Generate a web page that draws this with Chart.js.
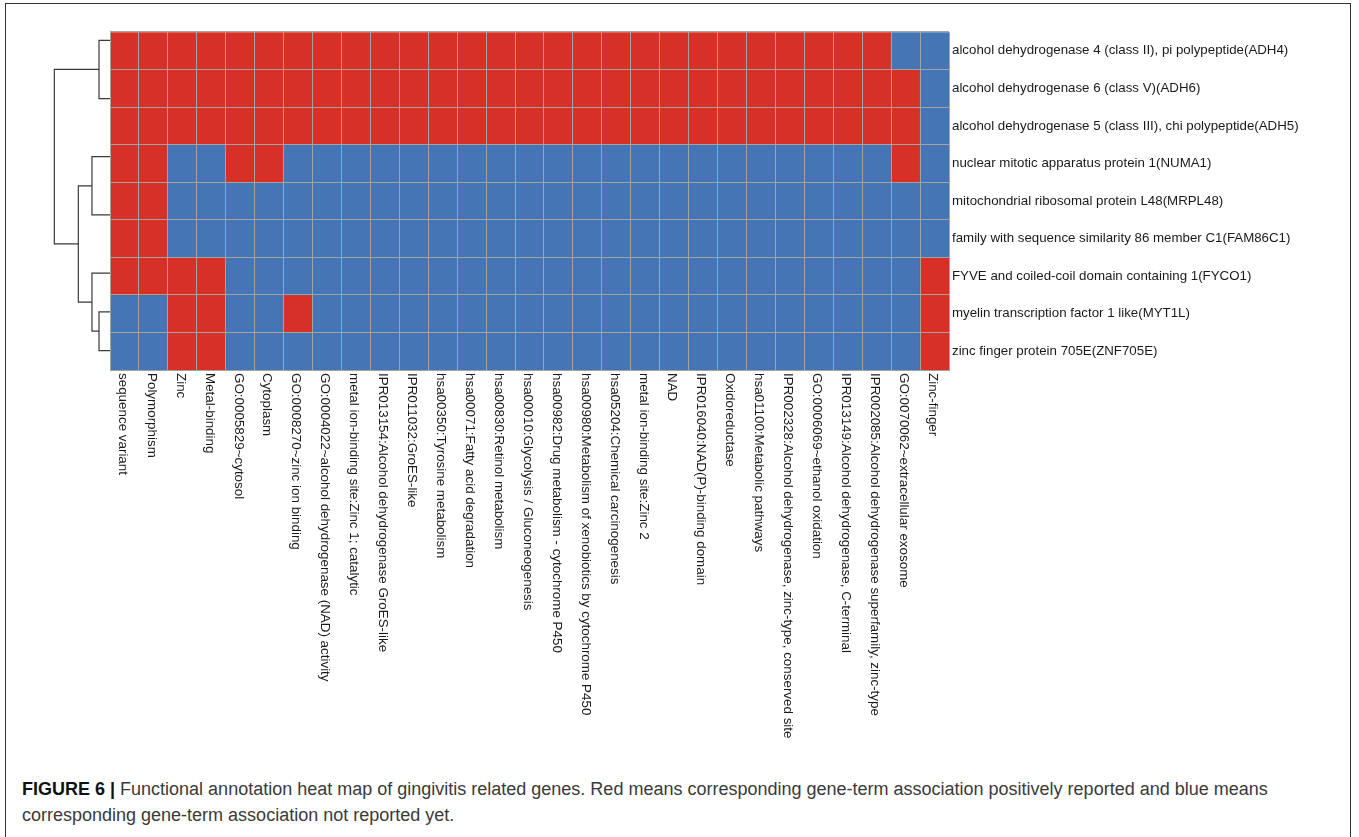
<!DOCTYPE html>
<html>
<head>
<meta charset="utf-8">
<title>Functional annotation heat map</title>
<script src="https://cdn.jsdelivr.net/npm/chart.js@4.4.1/dist/chart.umd.min.js"></script>
<style>
  html, body { margin: 0; padding: 0; background: #fff; overflow: hidden; }
  body { font-family: "Liberation Sans", Arial, sans-serif; width: 1359px; height: 837px; position: relative; }
  #frame { position: absolute; left: 5px; top: 3px; width: 1346px; height: 840px; border: 1px solid #333; border-bottom: none; box-sizing: border-box; }
  #dendroBox { position: absolute; left: 0; top: 21px; width: 110px; height: 349px; }
  #heatBox { position: absolute; left: 110px; top: 21px; width: 1240px; height: 749px; }
  #caption { position: absolute; left: 22px; top: 776px; width: 1320px; font-size: 18px; line-height: 26px; color: #3a3a3a; white-space: nowrap; }
  #caption b { color: #111; }
</style>
</head>
<body>
<div id="frame"></div>
<div id="dendroBox"><canvas id="dendro"></canvas></div>
<div id="heatBox"><canvas id="heat"></canvas></div>
<div id="caption"><b>FIGURE 6 |</b> Functional annotation heat map of gingivitis related genes. Red means corresponding gene-term association positively reported and blue means<br>corresponding gene-term association not reported yet.</div>

<script>
// terms (columns) and genes (rows), in the order of the figure
var terms = [
  'sequence variant', 'Polymorphism', 'Zinc', 'Metal-binding', 'GO:0005829~cytosol',
  'Cytoplasm', 'GO:0008270~zinc ion binding', 'GO:0004022~alcohol dehydrogenase (NAD) activity',
  'metal ion-binding site:Zinc 1; catalytic', 'IPR013154:Alcohol dehydrogenase GroES-like',
  'IPR011032:GroES-like', 'hsa00350:Tyrosine metabolism', 'hsa00071:Fatty acid degradation',
  'hsa00830:Retinol metabolism', 'hsa00010:Glycolysis / Gluconeogenesis',
  'hsa00982:Drug metabolism - cytochrome P450', 'hsa00980:Metabolism of xenobiotics by cytochrome P450',
  'hsa05204:Chemical carcinogenesis', 'metal ion-binding site:Zinc 2', 'NAD',
  'IPR016040:NAD(P)-binding domain', 'Oxidoreductase', 'hsa01100:Metabolic pathways',
  'IPR002328:Alcohol dehydrogenase, zinc-type, conserved site', 'GO:0006069~ethanol oxidation',
  'IPR013149:Alcohol dehydrogenase, C-terminal', 'IPR002085:Alcohol dehydrogenase superfamily, zinc-type',
  'GO:0070062~extracellular exosome', 'Zinc-finger'
];

var genes = [
  'alcohol dehydrogenase 4 (class II), pi polypeptide(ADH4)',
  'alcohol dehydrogenase 6 (class V)(ADH6)',
  'alcohol dehydrogenase 5 (class III), chi polypeptide(ADH5)',
  'nuclear mitotic apparatus protein 1(NUMA1)',
  'mitochondrial ribosomal protein L48(MRPL48)',
  'family with sequence similarity 86 member C1(FAM86C1)',
  'FYVE and coiled-coil domain containing 1(FYCO1)',
  'myelin transcription factor 1 like(MYT1L)',
  'zinc finger protein 705E(ZNF705E)'
];

// 1 = association reported (red), 0 = not reported (blue)
var adh4    = [1,1,1,1,1,1,1,1,1,1,1,1,1,1,1,1,1,1,1,1,1,1,1,1,1,1,1,0,0];
var adh6    = [1,1,1,1,1,1,1,1,1,1,1,1,1,1,1,1,1,1,1,1,1,1,1,1,1,1,1,1,0];
var adh5    = [1,1,1,1,1,1,1,1,1,1,1,1,1,1,1,1,1,1,1,1,1,1,1,1,1,1,1,1,0];
var numa1   = [1,1,0,0,1,1,0,0,0,0,0,0,0,0,0,0,0,0,0,0,0,0,0,0,0,0,0,1,0];
var mrpl48  = [1,1,0,0,0,0,0,0,0,0,0,0,0,0,0,0,0,0,0,0,0,0,0,0,0,0,0,0,0];
var fam86c1 = [1,1,0,0,0,0,0,0,0,0,0,0,0,0,0,0,0,0,0,0,0,0,0,0,0,0,0,0,0];
var fyco1   = [1,1,1,1,0,0,0,0,0,0,0,0,0,0,0,0,0,0,0,0,0,0,0,0,0,0,0,0,1];
var myt1l   = [0,0,1,1,0,0,1,0,0,0,0,0,0,0,0,0,0,0,0,0,0,0,0,0,0,0,0,0,1];
var znf705e = [0,0,1,1,0,0,0,0,0,0,0,0,0,0,0,0,0,0,0,0,0,0,0,0,0,0,0,0,1];
var hits = [adh4, adh6, adh5, numa1, mrpl48, fam86c1, fyco1, myt1l, znf705e];

// row clustering, linkage style: [child a, child b, height]; 0-8 are the rows, 9+ are merges
var merges = [
  [1, 2, 0],
  [0, 9, 1.0],
  [4, 5, 0],
  [3, 11, 1.64],
  [7, 8, 1.0],
  [6, 13, 1.64],
  [12, 14, 2.88],
  [10, 15, 5.06]
];

var RED = '#d73027';
var BLUE = '#4575b4';
var GRID = '#a3a3a3';
var FONT = '"Liberation Sans", Arial, sans-serif';

// heat map: one stacked dataset per gene, each cell is one unit tall
var heatData = {
  labels: terms,
  datasets: genes.map(function (g, i) {
    return {
      label: g,
      data: hits[i].map(function () { return 1; }),
      backgroundColor: hits[i].map(function (v) { return v ? RED : BLUE; }),
      borderWidth: 0,
      barPercentage: 1,
      categoryPercentage: 1
    };
  })
};

// term labels under the columns, turned to read top to bottom
var termLabels = {
  id: 'termLabels',
  afterDraw: function (chart) {
    var ctx = chart.ctx;
    var xs = chart.scales.x;
    var top = chart.chartArea.bottom + 3;
    ctx.save();
    ctx.font = '13.4px ' + FONT;
    ctx.fillStyle = '#1a1a1a';
    ctx.textAlign = 'left';
    ctx.textBaseline = 'middle';
    terms.forEach(function (t, i) {
      ctx.save();
      ctx.translate(xs.getPixelForValue(i) - 2, top);
      ctx.rotate(Math.PI / 2);
      ctx.fillText(t, 0, 0);
      ctx.restore();
    });
    ctx.restore();
  }
};

new Chart(document.getElementById('heat'), {
  type: 'bar',
  data: heatData,
  plugins: [termLabels],
  options: {
    animation: false,
    responsive: true,
    maintainAspectRatio: false,
    layout: { padding: 0 },
    plugins: { legend: { display: false }, tooltip: { enabled: false } },
    scales: {
      x: {
        stacked: true,
        offset: true,
        grid: { color: GRID, offset: true, drawTicks: false, z: 1 },
        border: { color: GRID, z: 1 },
        ticks: { display: false },
        afterFit: function (s) { s.height = 400; }
      },
      y: {
        stacked: true,
        reverse: true,
        min: 0,
        max: 9,
        grid: { color: GRID, drawTicks: false, z: 1 },
        border: { color: GRID, z: 1 },
        ticks: { display: false, stepSize: 1 },
        afterFit: function (s) { s.width = 0; }
      },
      y2: {
        type: 'category',
        labels: genes,
        position: 'right',
        offset: true,
        grid: { display: false, drawTicks: false },
        border: { display: false },
        ticks: { color: '#1a1a1a', padding: 3, font: { family: FONT, size: 13.3 } },
        afterFit: function (s) { s.width = 401; }
      }
    }
  }
});

// dendrogram: each merge is a bracket from its two children out to its height
var nodeY = genes.map(function (g, i) { return i + 0.5; });
var nodeH = genes.map(function () { return 0; });
var dendroSets = [];
merges.forEach(function (m) {
  var a = m[0], b = m[1], h = m[2];
  if (h > 0) {
    dendroSets.push({
      data: [
        { x: nodeH[a], y: nodeY[a] },
        { x: h, y: nodeY[a] },
        { x: h, y: nodeY[b] },
        { x: nodeH[b], y: nodeY[b] }
      ],
      showLine: true,
      borderColor: '#3a3a3a',
      borderWidth: 1.2,
      pointRadius: 0,
      fill: false
    });
  }
  nodeY.push((nodeY[a] + nodeY[b]) / 2);
  nodeH.push(h);
});

new Chart(document.getElementById('dendro'), {
  type: 'scatter',
  data: { datasets: dendroSets },
  options: {
    animation: false,
    responsive: true,
    maintainAspectRatio: false,
    layout: { padding: 0 },
    plugins: { legend: { display: false }, tooltip: { enabled: false } },
    scales: {
      x: { type: 'linear', min: 0, max: 10, reverse: true, display: false },
      y: { type: 'linear', min: 0, max: 9, reverse: true, display: false }
    }
  }
});
</script>
</body>
</html>
